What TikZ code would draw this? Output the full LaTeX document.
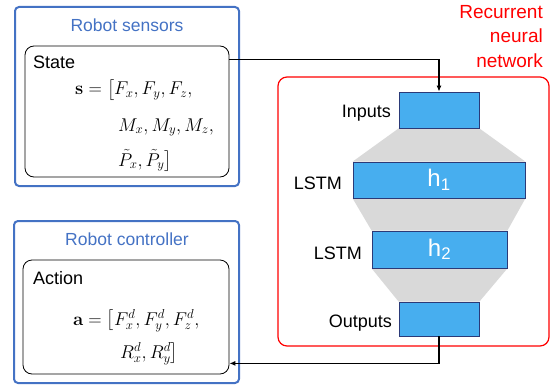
\RequirePackage{fix-cm}
\documentclass[tikz,border=0pt]{standalone}
\usepackage{amsmath}
\usepackage[no-math]{fontspec}
\setmainfont{Liberation Sans}
\usetikzlibrary{arrows.meta,backgrounds}
\definecolor{sblue}{HTML}{4472C4}
\definecolor{lblue}{HTML}{47AEEF}
\definecolor{navy}{HTML}{2B3A78}
\definecolor{tgray}{HTML}{D9D9D9}
\definecolor{rred}{HTML}{FF0000}
\newcommand{\lbrk}{\smash{\bigl[}}
\newcommand{\rbrk}{\smash{\bigr]}}
\begin{document}
\begin{tikzpicture}[x=1pt,y=-1pt,
  outerbox/.style={draw=sblue,line width=2pt,rounded corners=4pt,inner sep=0pt},
  innerbox/.style={draw=black,line width=0.8pt,rounded corners=9pt,inner sep=0pt},
  layer/.style={draw=navy,fill=lblue,line width=0.8pt,inner sep=0pt,text=white,font=\fontsize{24}{26}\selectfont},
  title/.style={text=sblue,inner sep=0pt,font=\fontsize{17.5}{20}\selectfont},
  lbl/.style={inner sep=0pt,font=\fontsize{18}{20}\selectfont},
  mth/.style={inner sep=0pt,font=\fontsize{18.5}{20}\selectfont},
  arr/.style={line width=1.1pt,-{Latex[length=6pt,width=5pt]}}]
\useasboundingbox (0,0) rectangle (553,385);
% left boxes
\node[outerbox,minimum width=224pt,minimum height=179pt] (sensors) at (127,96.5) {};
\node[title] (sensT) at (127,25) {Robot sensors};
\node[innerbox,minimum width=204pt,minimum height=131pt] (state) at (127,111.5) {};
\node[lbl,anchor=west] (stateT) at (33,62) {State};
\node[mth,anchor=base west] (s1) at (75,95) {$\mathbf{s}=\lbrk F_x,F_y,F_z,$};
\node[mth,anchor=base west] (s2) at (118,131) {$M_x,M_y,M_z,$};
\node[mth,anchor=base west] (s3) at (118,166) {$\tilde{P}_x,\tilde{P}_y\rbrk$};

\node[outerbox,minimum width=225pt,minimum height=162pt] (ctrl) at (126.5,302) {};
\node[title] (ctrlT) at (127,239) {Robot controller};
\node[innerbox,minimum width=206pt,minimum height=114pt] (action) at (126,317) {};
\node[lbl,anchor=west] (actT) at (33,278) {Action};
\node[mth,anchor=base west] (a1) at (73,325) {$\mathbf{a}=\lbrk F_x^d,F_y^d,F_z^d,$};
\node[mth,anchor=base west] (a2) at (120,358) {$R_x^d,R_y^d\rbrk$};

% RNN
\node[draw=rred,line width=1.2pt,rounded corners=9pt,minimum width=271pt,minimum height=269pt,inner sep=0pt] (rnn) at (413.5,211.5) {};
\node[text=rred,align=right,anchor=north east,inner sep=0pt,font=\fontsize{19}{24.5}\selectfont] (rnnT) at (543,5) {Recurrent\\neural\\network};

\node[layer,minimum width=80pt,minimum height=36pt] (inputs) at (439,110) {};
\node[layer,minimum width=172pt,minimum height=36pt] (h1) at (439,180) {h\textsubscript{1}};
\node[layer,minimum width=135pt,minimum height=37pt] (h2) at (439.5,249.5) {h\textsubscript{2}};
\node[layer,minimum width=80pt,minimum height=34pt] (outputs) at (439,319) {};

\node[lbl,anchor=east] (inL) at (391,113) {Inputs};
\node[lbl,anchor=east] (l1L) at (342,183) {LSTM};
\node[lbl,anchor=east] (l2L) at (362,253) {LSTM};
\node[lbl,anchor=east] (outL) at (392,323) {Outputs};

\begin{scope}[on background layer]
\fill[tgray] (inputs.south west) -- (inputs.south east) -- (h1.north east) -- (h1.north west) -- cycle;
\fill[tgray] (h1.south west) -- (h1.south east) -- (h2.north east) -- (h2.north west) -- cycle;
\fill[tgray] (h2.south west) -- (h2.south east) -- (outputs.north east) -- (outputs.north west) -- cycle;
\end{scope}

% connectors
\draw[arr] ([yshift=-14pt]state.north east) -| (inputs.north);
\draw[arr] (outputs.south) |- ([yshift=11pt]action.south east);
\end{tikzpicture}
\end{document}
